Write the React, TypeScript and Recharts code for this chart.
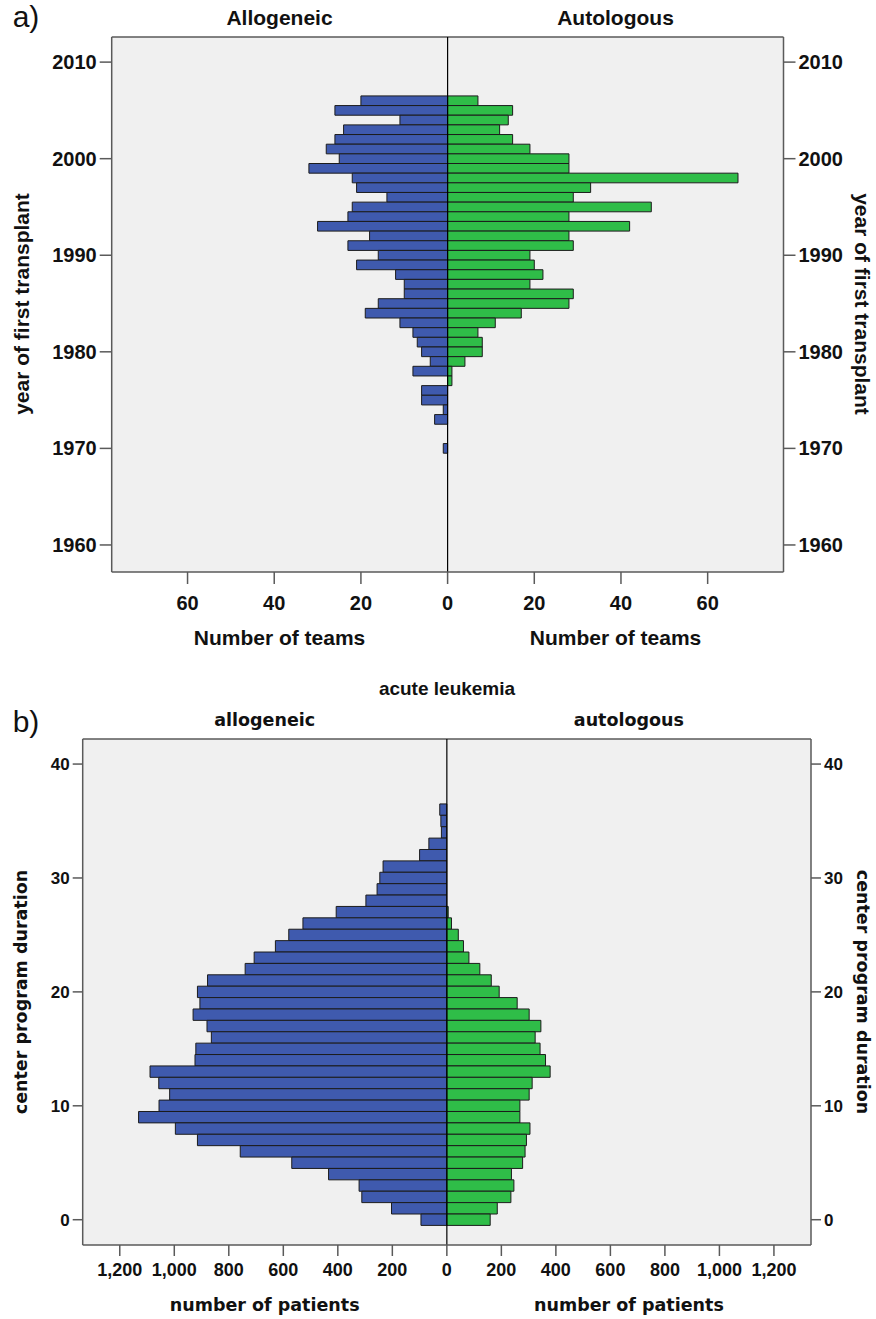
import React from "react";
import { BarChart, Bar, XAxis, YAxis, CartesianGrid, ReferenceLine } from "recharts";

// a) year of first transplant -> number of teams
const years = [
  2006, 2005, 2004, 2003, 2002, 2001, 2000, 1999, 1998, 1997, 1996, 1995, 1994,
  1993, 1992, 1991, 1990, 1989, 1988, 1987, 1986, 1985, 1984, 1983, 1982, 1981,
  1980, 1979, 1978, 1977, 1976, 1975, 1974, 1973, 1972, 1971, 1970,
];
const teamsAllo = [
  20, 26, 11, 24, 26, 28, 25, 32, 22, 21, 14, 22, 23, 30, 18, 23, 16, 21, 12, 10,
  10, 16, 19, 11, 8, 7, 6, 4, 8, 0, 6, 6, 1, 3, 0, 0, 1,
];
const teamsAuto = [
  7, 15, 14, 12, 15, 19, 28, 28, 67, 33, 29, 47, 28, 42, 28, 29, 19, 20, 22, 19,
  29, 28, 17, 11, 7, 8, 8, 4, 1, 1, 0, 0, 0, 0, 0, 0, 0,
];
const yearTicks = [1960, 1970, 1980, 1990, 2000, 2010];
const teamTicks = [-60, -40, -20, 0, 20, 40, 60];

// b) center program duration -> number of patients (acute leukemia)
const duration = [
  36, 35, 34, 33, 32, 31, 30, 29, 28, 27, 26, 25, 24, 23, 22, 21, 20, 19, 18, 17,
  16, 15, 14, 13, 12, 11, 10, 9, 8, 7, 6, 5, 4, 3, 2, 1, 0,
];
const patientsAllo = [
  26, 22, 20, 66, 100, 234, 246, 256, 297, 406, 528, 580, 629, 707, 740, 878, 915,
  906, 931, 880, 864, 921, 924, 1089, 1057, 1017, 1056, 1131, 996, 915, 758, 569,
  434, 322, 312, 203, 95,
];
const patientsAuto = [
  0, 0, 0, 0, 0, 0, 0, 0, 0, 5, 17, 42, 61, 81, 121, 163, 192, 258, 302, 345, 324,
  342, 362, 379, 313, 302, 268, 268, 305, 292, 287, 278, 237, 246, 235, 185, 159,
];
const durationTicks = [0, 10, 20, 30, 40];
const patientTicks = [-1200, -1000, -800, -600, -400, -200, 0, 200, 400, 600, 800, 1000, 1200];

const teamsData = years.map((year, i) => ({ year, allo: -teamsAllo[i], auto: teamsAuto[i] }));
const patientsData = duration.map((d, i) => ({ d, allo: -patientsAllo[i], auto: patientsAuto[i] }));

const ARIAL = "'Liberation Sans', Arial, sans-serif";
const DEJAVU = "'DejaVu Sans', Verdana, sans-serif";
const BLUE = "#3f5aae";
const GREEN = "#2fbd48";
const FRAME = "#5a5a5a";

const absFmt = (v: number) => Math.abs(v).toLocaleString("en-US");

const Txt: React.FC<{
  x: number;
  y: number;
  size: number;
  family?: string;
  bold?: boolean;
  rotate?: number;
  children: React.ReactNode;
}> = ({ x, y, size, family = ARIAL, bold = true, rotate = 0, children }) => (
  <div
    style={{
      position: "absolute",
      left: x,
      top: y,
      transform: `translate(-50%, -50%) rotate(${rotate}deg)`,
      fontFamily: family,
      fontSize: size,
      fontWeight: bold ? "bold" : "normal",
      whiteSpace: "nowrap",
      lineHeight: 1,
      color: "#111",
    }}
  >
    {children}
  </div>
);

export default function App() {
  const tickA = { fill: "#111", fontSize: 20, fontWeight: "bold", fontFamily: ARIAL };
  const tickB = { fill: "#111", fontSize: 17, fontWeight: "bold", fontFamily: ARIAL };
  const tickBx = { fill: "#111", fontSize: 18, fontWeight: "bold", fontFamily: ARIAL };
  const line = { stroke: FRAME, strokeWidth: 1.5 };

  return (
    <div style={{ position: "absolute", left: 0, top: 0, width: 876, height: 1319, background: "#fff" }}>
      {/* panel a */}
      <div style={{ position: "absolute", left: 0, top: 0 }}>
        <BarChart
          width={876}
          height={650}
          data={teamsData}
          layout="vertical"
          stackOffset="sign"
          margin={{ top: 37, right: 32.5, bottom: 38, left: 51.7 }}
        >
          <CartesianGrid horizontal={false} vertical={false} fill="#f0f0f0" />
          <XAxis
            type="number"
            domain={[-77.5, 77.5]}
            ticks={teamTicks}
            allowDataOverflow
            tickFormatter={absFmt}
            tick={tickA}
            tickSize={12}
            tickMargin={12}
            axisLine={line}
            tickLine={line}
            height={40}
          />
          <YAxis
            type="number"
            dataKey="year"
            domain={[1957.2, 2012.6]}
            ticks={yearTicks}
            allowDataOverflow
            reversed
            tick={tickA}
            tickSize={12}
            tickMargin={3}
            axisLine={line}
            tickLine={line}
            width={60}
          />
          <YAxis
            yAxisId="r"
            orientation="right"
            type="number"
            dataKey="year"
            domain={[1957.2, 2012.6]}
            ticks={yearTicks}
            allowDataOverflow
            reversed
            tick={tickA}
            tickSize={12}
            tickMargin={3}
            axisLine={line}
            tickLine={line}
            width={60}
          />
          <Bar dataKey="allo" stackId="s" fill={BLUE} stroke="#1c1c1c" strokeWidth={1} barSize={9.65} isAnimationActive={false} />
          <Bar dataKey="auto" stackId="s" fill={GREEN} stroke="#1c1c1c" strokeWidth={1} barSize={9.65} isAnimationActive={false} />
          <ReferenceLine y={2012.6} stroke={FRAME} strokeWidth={1.5} />
          <ReferenceLine x={0} stroke="#000" strokeWidth={1.2} />
        </BarChart>
      </div>

      <Txt x={26} y={17} size={30} bold={false}>a)</Txt>
      <Txt x={279.5} y={17} size={21}>Allogeneic</Txt>
      <Txt x={615.5} y={17} size={21}>Autologous</Txt>
      <Txt x={21} y={304} size={21} rotate={-90}>year of first transplant</Txt>
      <Txt x={862} y={304} size={21} rotate={90}>year of first transplant</Txt>
      <Txt x={279.5} y={637} size={21}>Number of teams</Txt>
      <Txt x={615.5} y={637} size={21}>Number of teams</Txt>

      {/* panel b */}
      <div style={{ position: "absolute", left: 0, top: 700 }}>
        <BarChart
          width={876}
          height={619}
          data={patientsData}
          layout="vertical"
          stackOffset="sign"
          margin={{ top: 39, right: 15, bottom: 34, left: 32.7 }}
        >
          <CartesianGrid horizontal={false} vertical={false} fill="#f0f0f0" />
          <XAxis
            type="number"
            domain={[-1336, 1336]}
            ticks={patientTicks}
            allowDataOverflow
            tickFormatter={absFmt}
            tick={tickBx}
            tickSize={11}
            tickMargin={7}
            axisLine={line}
            tickLine={line}
            height={40}
          />
          <YAxis
            type="number"
            dataKey="d"
            domain={[-2.22, 42.2]}
            ticks={durationTicks}
            allowDataOverflow
            reversed
            tick={tickB}
            tickSize={10}
            tickMargin={3}
            axisLine={line}
            tickLine={line}
            width={50}
          />
          <YAxis
            yAxisId="r"
            orientation="right"
            type="number"
            dataKey="d"
            domain={[-2.22, 42.2]}
            ticks={durationTicks}
            allowDataOverflow
            reversed
            tick={tickB}
            tickSize={10}
            tickMargin={3}
            axisLine={line}
            tickLine={line}
            width={50}
          />
          <Bar dataKey="allo" stackId="s" fill={BLUE} stroke="#1c1c1c" strokeWidth={1} barSize={11.39} isAnimationActive={false} />
          <Bar dataKey="auto" stackId="s" fill={GREEN} stroke="#1c1c1c" strokeWidth={1} barSize={11.39} isAnimationActive={false} />
          <ReferenceLine y={42.2} stroke={FRAME} strokeWidth={1.5} />
          <ReferenceLine x={0} stroke="#000" strokeWidth={1.2} />
        </BarChart>
      </div>

      <Txt x={447} y={688} size={19}>acute leukemia</Txt>
      <Txt x={26} y={722} size={30} bold={false}>b)</Txt>
      <Txt x={264.7} y={721} size={17.5} family={DEJAVU}>allogeneic</Txt>
      <Txt x={628.9} y={721} size={17.5} family={DEJAVU}>autologous</Txt>
      <Txt x={22} y={992} size={17.5} family={DEJAVU} rotate={-90}>center program duration</Txt>
      <Txt x={862} y={992} size={17.5} family={DEJAVU} rotate={90}>center program duration</Txt>
      <Txt x={264.7} y={1306} size={17.5} family={DEJAVU}>number of patients</Txt>
      <Txt x={628.9} y={1306} size={17.5} family={DEJAVU}>number of patients</Txt>
    </div>
  );
}
